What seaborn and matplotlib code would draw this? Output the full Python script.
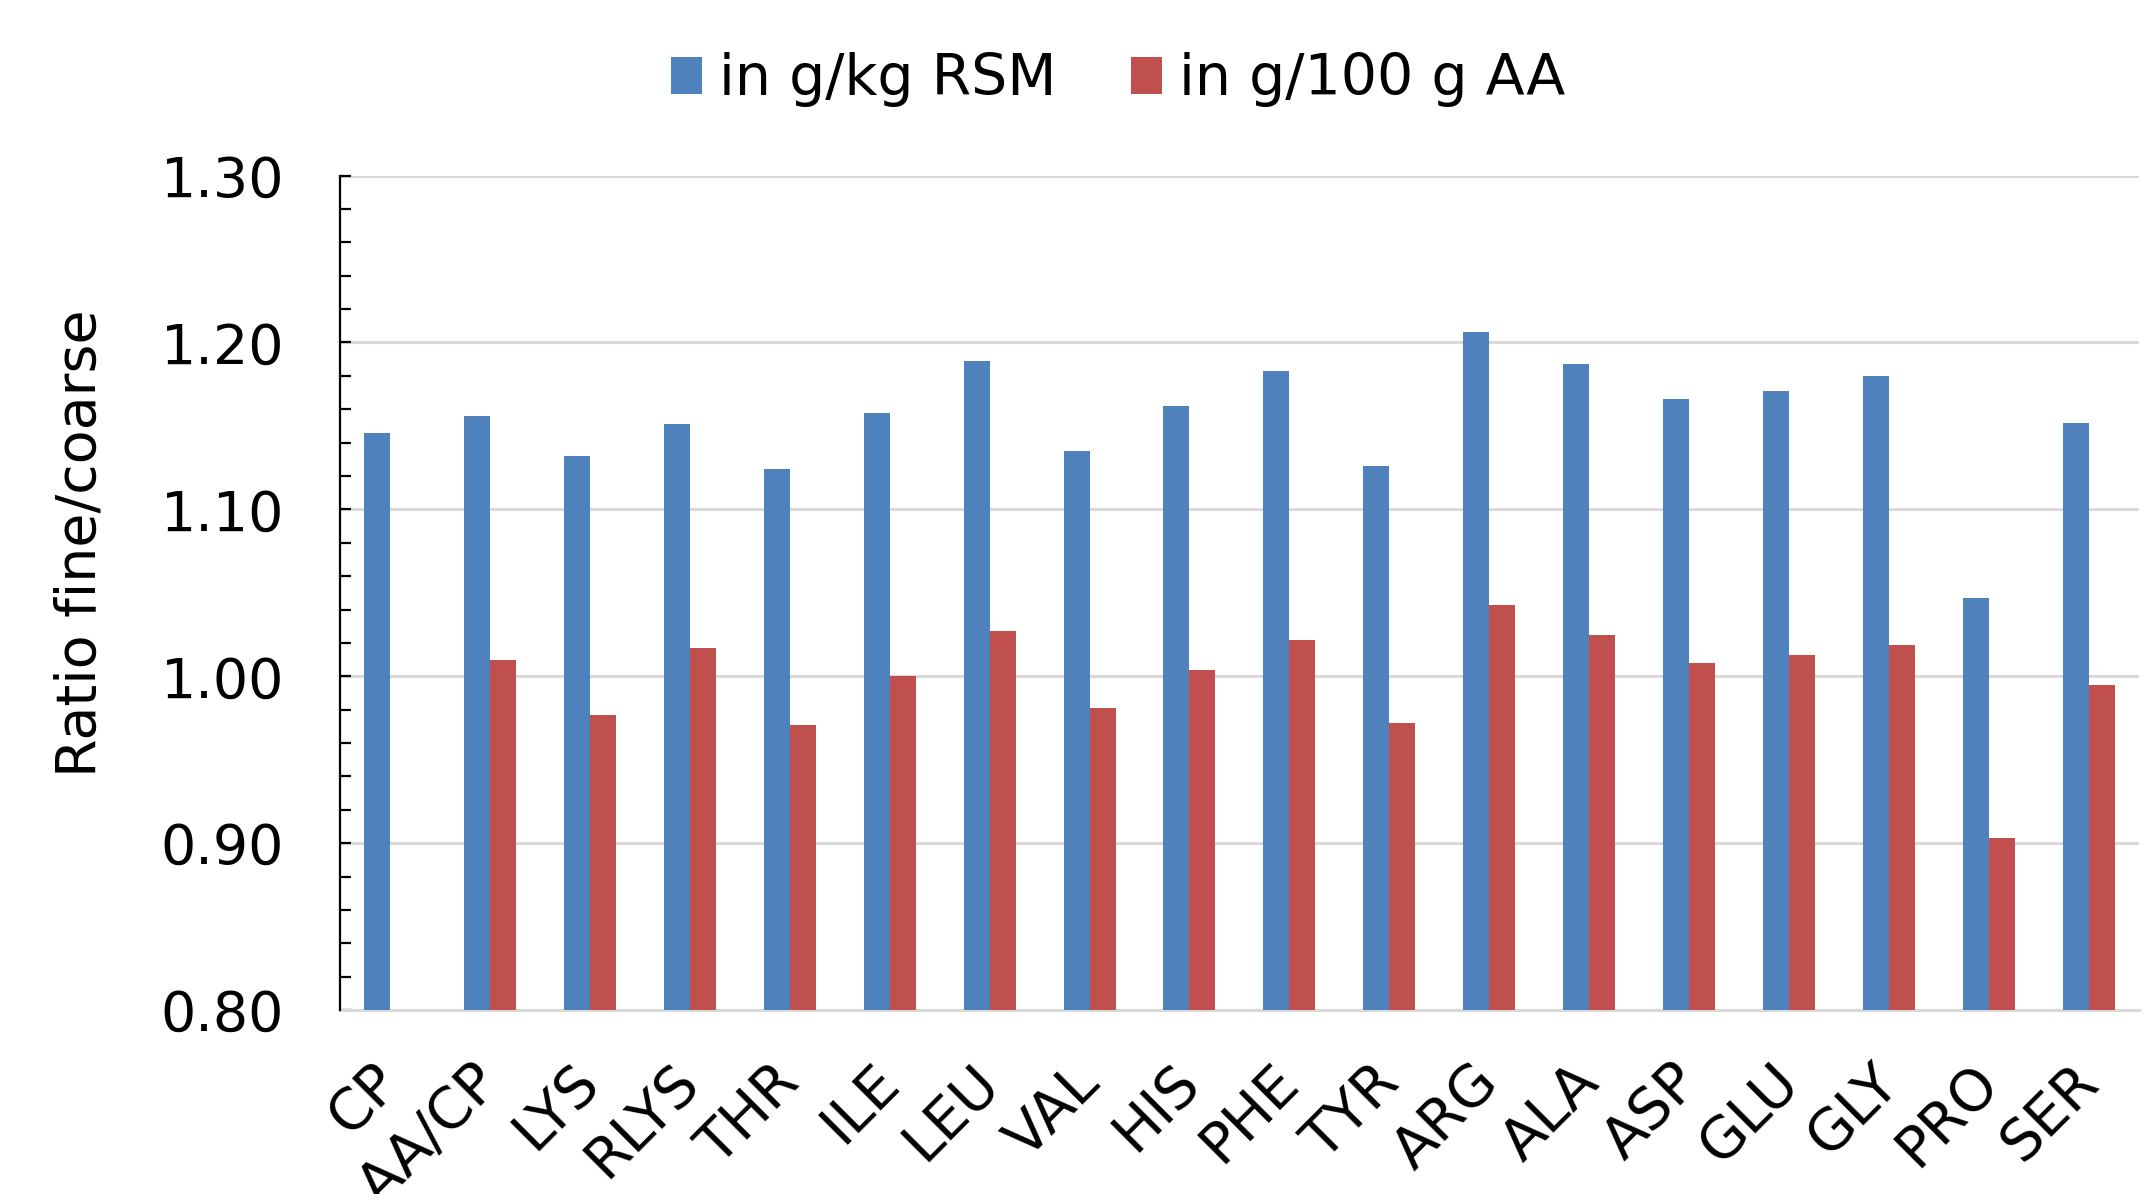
import numpy as np
import pandas as pd
import matplotlib
matplotlib.use("Agg")
import matplotlib.pyplot as plt
import matplotlib.transforms as mtransforms
from matplotlib.ticker import MultipleLocator, FormatStrFormatter
from matplotlib.patches import Patch
import seaborn as sns

categories = ["CP", "AA/CP", "LYS", "RLYS", "THR", "ILE", "LEU", "VAL", "HIS",
              "PHE", "TYR", "ARG", "ALA", "ASP", "GLU", "GLY", "PRO", "SER"]
g_per_kg = [1.146, 1.156, 1.132, 1.151, 1.124, 1.158, 1.189, 1.135, 1.162,
            1.183, 1.126, 1.206, 1.187, 1.166, 1.171, 1.180, 1.047, 1.152]
g_per_100g = [np.nan, 1.010, 0.977, 1.017, 0.971, 1.000, 1.027, 0.981, 1.004,
              1.022, 0.972, 1.043, 1.025, 1.008, 1.013, 1.019, 0.903, 0.995]
series_names = ["in g/kg RSM", "in g/100 g AA"]
colors = ["#4F81BD", "#C0504D"]

df = pd.DataFrame({
    "cat": categories * 2,
    "val": g_per_kg + g_per_100g,
    "series": [series_names[0]] * len(categories) + [series_names[1]] * len(categories),
})

sns.set_style("white")
plt.rcParams["font.family"] = ["DejaVu Sans"]
plt.rcParams["text.color"] = "black"
plt.rcParams["axes.labelcolor"] = "black"
plt.rcParams["xtick.color"] = "black"
plt.rcParams["ytick.color"] = "black"
FS = 40

fig = plt.figure(figsize=(21.5, 11.94), dpi=100)
ax = fig.add_axes([0.158, 0.154, 0.837, 0.699])

sns.barplot(data=df, x="cat", y="val", hue="series", order=categories,
            hue_order=series_names, palette=colors, width=0.52, gap=0,
            saturation=1, errorbar=None, ax=ax, zorder=3, legend=False)
for p in ax.patches:
    p.set_linewidth(0)

ax.set_ylim(0.80, 1.30)
ax.set_xlim(-0.5, len(categories) - 0.5)
ax.yaxis.set_major_locator(MultipleLocator(0.10))
ax.yaxis.set_minor_locator(MultipleLocator(0.02))
ax.yaxis.set_major_formatter(FormatStrFormatter("%.2f"))
ax.yaxis.remove_overlapping_locs = False
ax.grid(axis="y", which="major", color="#d9d9d9", linewidth=2.2, zorder=0)
ax.set_axisbelow(True)

for s in ["top", "right"]:
    ax.spines[s].set_visible(False)
ax.spines["left"].set_color("black")
ax.spines["left"].set_linewidth(1.6)
ax.spines["left"].set_zorder(5)
ax.spines["bottom"].set_color("#d9d9d9")
ax.spines["bottom"].set_linewidth(2.2)

ax.tick_params(axis="y", which="major", direction="out", length=15, width=1.6,
               pad=25, labelsize=FS, labelcolor="black", color="black")
ax.tick_params(axis="y", which="minor", direction="in", length=8, width=1.6,
               left=True, color="black")
ax.tick_params(axis="x", which="both", length=0, pad=32, labelsize=41,
               labelcolor="black")
offset = mtransforms.ScaledTranslation(-18 / 100, 0, fig.dpi_scale_trans)
for lab in ax.get_xticklabels():
    lab.set_rotation(45)
    lab.set_ha("right")
    lab.set_rotation_mode("anchor")
    lab.set_transform(lab.get_transform() + offset)

ax.set_xlabel("")
ax.set_ylabel("Ratio fine/coarse", fontsize=FS, color="black")
ax.yaxis.set_label_coords(-0.129, 0.56)

handles = [Patch(facecolor=c, edgecolor="none") for c in colors]
fig.legend(handles, series_names, loc="center", bbox_to_anchor=(0.52, 0.933),
           ncol=2, frameon=False, fontsize=41, handlelength=0.55,
           handleheight=0.6, handletextpad=0.3, columnspacing=1.3,
           labelcolor="black")

fig.savefig("out.png", dpi=100, facecolor="white")
